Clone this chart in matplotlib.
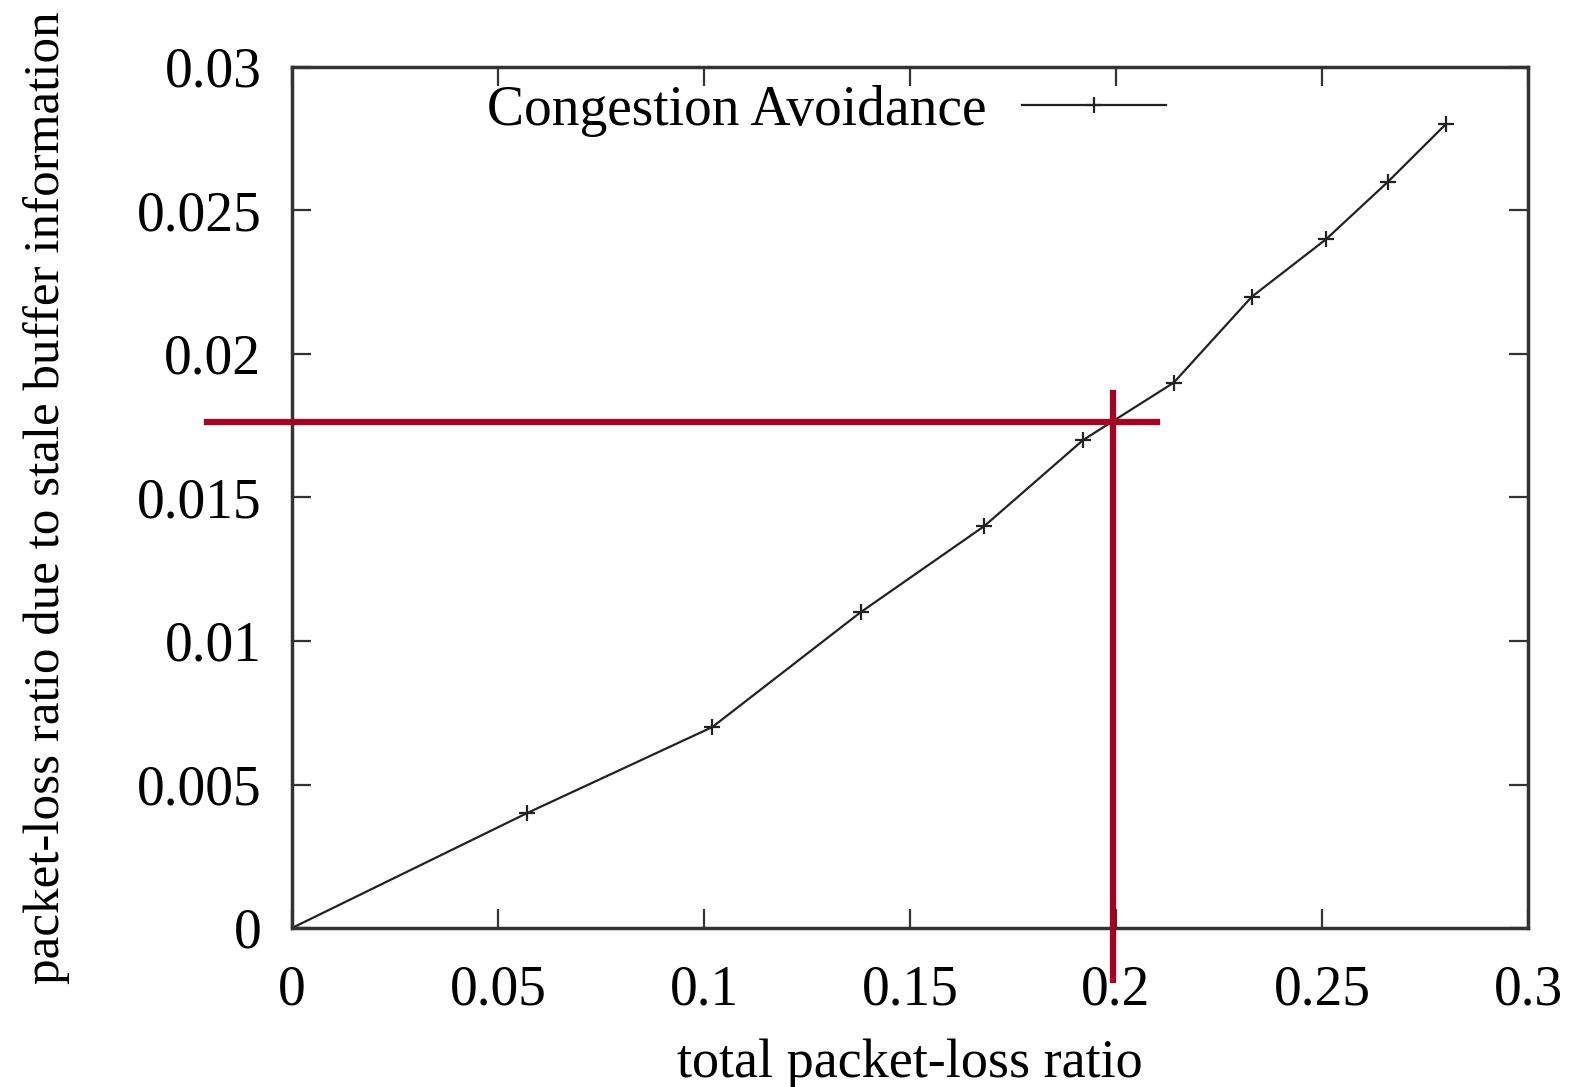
import matplotlib
matplotlib.use("Agg")
import matplotlib.pyplot as plt
from matplotlib.lines import Line2D

x_vals = [0.0, 0.057, 0.102, 0.138, 0.168, 0.192, 0.214, 0.233, 0.251, 0.266, 0.280]
y_vals = [0.0, 0.004, 0.007, 0.011, 0.014, 0.017, 0.019, 0.022, 0.024, 0.026, 0.028]
series_label = "Congestion Avoidance"
x_ticks = [0, 0.05, 0.1, 0.15, 0.2, 0.25, 0.3]
x_tick_labels = ["0", "0.05", "0.1", "0.15", "0.2", "0.25", "0.3"]
y_ticks = [0, 0.005, 0.01, 0.015, 0.02, 0.025, 0.03]
y_tick_labels = ["0", "0.005", "0.01", "0.015", "0.02", "0.025", "0.03"]
# red annotation crosshair (data coords)
hline_y = 0.01763
hline_x = [-0.0206, 0.210]
vline_x = 0.1993
vline_y = [-0.0018, 0.01864]

plt.rcParams['font.family'] = ['Liberation Serif', 'DejaVu Serif']
fig = plt.figure(figsize=(15.71, 10.87), dpi=100)
ax = fig.add_axes([292/1571, 1-928/1087, (1528-292)/1571, (928-67)/1087])

ax.plot(x_vals, y_vals, color='#222222', lw=1.6, marker='+', ms=12, mew=1.6)
ax.set_xlim(0, 0.3)
ax.set_ylim(0, 0.03)
ax.set_xticks(x_ticks)
ax.set_xticklabels(x_tick_labels)
ax.set_yticks(y_ticks)
ax.set_yticklabels(y_tick_labels)
ax.tick_params(direction='in', length=14, width=1.6, labelsize=40, top=True, right=True,
               color='#333333', pad=22)
ax.tick_params(axis='x', pad=26)
for s in ax.spines.values():
    s.set_linewidth(2.5)
    s.set_color('#333333')

ax.set_xlabel("total packet-loss ratio", fontsize=39, labelpad=16)
ax.set_ylabel("packet-loss ratio due to stale buffer information", fontsize=36.8, labelpad=48)

handle = Line2D([], [], color='#222222', lw=1.6, marker='+', ms=12, mew=1.6)
leg = ax.legend([handle], [series_label], loc='upper left', bbox_to_anchor=(0.131, 1.018),
                frameon=False, markerfirst=False, fontsize=40, handlelength=2.6,
                handletextpad=0.63, borderaxespad=0.2)

ax.plot(hline_x, [hline_y, hline_y], color='#a50021', lw=4.5, clip_on=False, zorder=5)
ax.plot([vline_x, vline_x], vline_y, color='#a50021', lw=4.5, clip_on=False, zorder=5)

fig.savefig("out.png", dpi=100)
